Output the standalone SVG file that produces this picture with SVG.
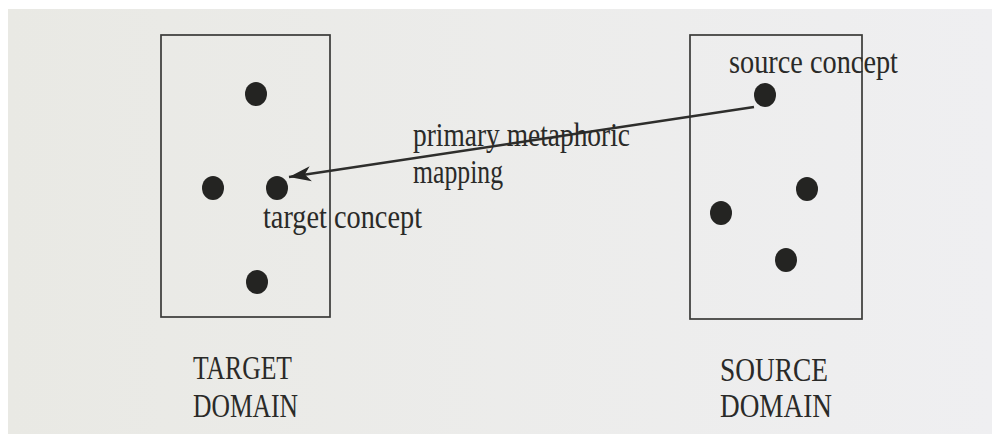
<svg xmlns="http://www.w3.org/2000/svg" width="992" height="434" viewBox="0 0 992 434">
<defs>
<linearGradient id="bg" x1="0" y1="0" x2="1" y2="0">
<stop offset="0" stop-color="#e9e9e4"/>
<stop offset="1" stop-color="#efeff1"/>
</linearGradient>
<marker id="ah" markerUnits="userSpaceOnUse" markerWidth="24" markerHeight="18" viewBox="0 0 24 18" refX="23" refY="9" orient="auto">
<path d="M23,9 L1,1.5 L7,9 L1,16.5 Z" fill="#262624"/>
</marker>
<style>
.box{fill:none;stroke:#3a3a38;stroke-width:1.7}
.dot{fill:#242422}
.t{font-family:"Liberation Serif","Times New Roman",serif;font-size:33px;fill:#2a2a28}
.edge{stroke:#2e2e2c;stroke-width:2.6;fill:none}
</style>
</defs>
<rect width="992" height="434" fill="#ffffff"/>
<rect x="8" y="9" width="984" height="425" fill="url(#bg)"/>

<g id="target-domain">
<rect class="box" x="161" y="35" width="169" height="282"/>
<ellipse class="dot" cx="256" cy="94" rx="11" ry="12"/>
<ellipse class="dot" cx="213" cy="188" rx="11" ry="12"/>
<ellipse class="dot" cx="257" cy="282" rx="11" ry="12"/>
<text class="t" x="193" y="379" textLength="99" lengthAdjust="spacingAndGlyphs">TARGET</text>
<text class="t" x="193" y="417" textLength="105" lengthAdjust="spacingAndGlyphs">DOMAIN</text>
</g>

<g id="target-concept">
<ellipse class="dot" cx="277" cy="188" rx="11" ry="12"/>
<text class="t" x="263" y="228" textLength="159" lengthAdjust="spacingAndGlyphs">target concept</text>
</g>

<g id="source-domain">
<rect class="box" x="690" y="35" width="172" height="284"/>
<ellipse class="dot" cx="807" cy="189" rx="11" ry="12"/>
<ellipse class="dot" cx="721" cy="213" rx="11" ry="12"/>
<ellipse class="dot" cx="786" cy="260" rx="11" ry="12"/>
<text class="t" x="720" y="381" textLength="108" lengthAdjust="spacingAndGlyphs">SOURCE</text>
<text class="t" x="720" y="417" textLength="112" lengthAdjust="spacingAndGlyphs">DOMAIN</text>
</g>

<g id="source-concept">
<ellipse class="dot" cx="765" cy="95" rx="11" ry="12"/>
<text class="t" x="729" y="73" textLength="169" lengthAdjust="spacingAndGlyphs">source concept</text>
</g>

<g id="connectors">
<line class="edge" x1="754" y1="107" x2="289" y2="177" marker-end="url(#ah)"/>
<text class="t" x="413" y="146" textLength="217" lengthAdjust="spacingAndGlyphs">primary metaphoric</text>
<text class="t" x="413" y="183" textLength="90" lengthAdjust="spacingAndGlyphs">mapping</text>
</g>
</svg>
